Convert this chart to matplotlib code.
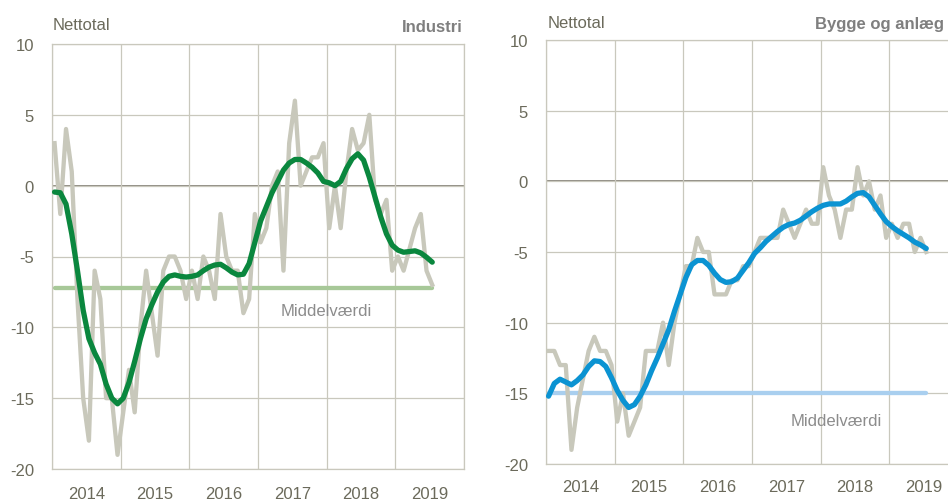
import numpy as np
import matplotlib.pyplot as plt
from matplotlib.ticker import FixedLocator, NullFormatter, FixedFormatter

# ---------------- data ----------------
start_year = 2014
year_labels = ["2014", "2015", "2016", "2017", "2018", "2019"]
y_ticks = [-20, -15, -10, -5, 0, 5, 10]

industri_netto = [3, -2, 4, 1, -8, -15, -18, -6, -8, -15,
                  -15, -19, -16, -13, -16, -10, -6, -9, -12, -6,
                  -5, -5, -6, -8, -6, -8, -5, -6, -8, -2,
                  -5, -6, -6, -9, -8, -2, -4, -3, 0, 1,
                  -6, 3, 6, 0, 1, 2, 2, 3, -3, 0,
                  -3, 1, 4, 2.5, 3, 5, -1, -2, -1, -6,
                  -5, -6, -4.5, -3, -2, -6, -7]
industri_trend = [-0.45, -0.5, -1.3, -3.4, -6.0, -8.8, -10.8, -11.8, -12.6, -14.0,
                  -15.0, -15.4, -15.0, -13.9, -12.4, -10.8, -9.4, -8.4, -7.5, -6.8,
                  -6.4, -6.3, -6.4, -6.45, -6.4, -6.3, -6.0, -5.75, -5.6, -5.55,
                  -5.8, -6.1, -6.3, -6.25, -5.5, -4.0, -2.5, -1.5, -0.5, 0.3,
                  1.1, 1.6, 1.85, 1.85, 1.6, 1.3, 0.9, 0.3, 0.2, 0.0,
                  0.3, 1.2, 1.9, 2.25, 1.8, 0.6, -0.8, -2.2, -3.4, -4.2,
                  -4.55, -4.7, -4.65, -4.6, -4.75, -5.05, -5.4]
industri_middel = -7.2

bygge_netto = [-12, -12, -13, -13, -19, -16, -14, -12, -11, -12,
               -12, -13, -17, -15, -18, -17, -16, -12, -12, -12,
               -10, -13, -10, -8, -6, -6, -4, -5, -5, -8,
               -8, -8, -7, -7, -6, -6, -5, -4, -4, -4,
               -4, -2, -3, -4, -3, -2, -3, -3, 1, -1,
               -2, -4, -2, -2, 1, -1, 0, -2, -1, -4,
               -3, -4, -3, -3, -5, -4, -5]
bygge_trend = [-15.2, -14.3, -14.0, -14.2, -14.4, -14.1, -13.7, -13.1, -12.7, -12.75,
               -13.1, -13.9, -14.8, -15.5, -16.0, -15.8, -15.2, -14.4, -13.4, -12.5,
               -11.5, -10.5, -9.2, -8.0, -6.8, -5.9, -5.6, -5.6, -5.95, -6.5,
               -6.95, -7.15, -7.1, -6.85, -6.3, -5.75, -5.1, -4.7, -4.25, -3.9,
               -3.55, -3.25, -3.05, -2.95, -2.75, -2.45, -2.15, -1.9, -1.7, -1.6,
               -1.6, -1.6, -1.4, -1.1, -0.85, -0.8, -1.1, -1.7, -2.3, -2.85,
               -3.2, -3.5, -3.75, -4.0, -4.3, -4.5, -4.75]
bygge_middel = -15.0

# ---------------- style ----------------
plt.rcParams["font.family"] = ["Liberation Sans", "DejaVu Sans"]

TXT = "#6b6a5b"
GRID = "#c9c8bd"
ZERO = "#6f6b5f"
GREY = "#c8c8bb"
GREEN = "#0a873e"
BLUE = "#0b93d2"
GREEN_M = "#a7c898"
BLUE_M = "#a9cfef"
TITLE = "#7f7f7f"
MID_TXT = "#8c8c8c"
FS = 12

W, H = 948, 502
fig = plt.figure(figsize=(W / 100, H / 100), dpi=100)


def px_axes(l, t, r, b):
    return fig.add_axes([l / W, 1 - b / H, (r - l) / W, (b - t) / H])


def months_to_x(n):
    return start_year + (np.arange(n) + 0.45) / 12.0


def panel(ax, netto, trend, middel, trend_col, mean_col, mid_xy, xpad):
    x = months_to_x(len(netto))
    ax.set_xlim(start_year, start_year + len(year_labels))
    ax.set_ylim(y_ticks[0], y_ticks[-1])
    ax.xaxis.set_major_locator(FixedLocator(np.arange(start_year, start_year + len(year_labels) + 1)))
    ax.xaxis.set_major_formatter(NullFormatter())
    ax.xaxis.set_minor_locator(FixedLocator(np.arange(len(year_labels)) + start_year + 0.5))
    ax.xaxis.set_minor_formatter(FixedFormatter(year_labels))
    ax.set_yticks(y_ticks)
    ax.set_yticklabels([str(v) for v in y_ticks])
    ax.tick_params(axis="both", which="both", length=0, colors=TXT, labelsize=FS)
    ax.tick_params(axis="y", pad=13)
    ax.tick_params(axis="x", which="minor", pad=xpad)
    ax.grid(True, which="major", color=GRID, lw=0.9, zorder=0)
    for s in ax.spines.values():
        s.set_color(GRID)
        s.set_linewidth(0.9)
    ax.axhline(0, color=ZERO, lw=1.1, zorder=1)
    ax.plot([x[0], x[-1]], [middel, middel], color=mean_col, lw=3.1,
            solid_capstyle="round", zorder=2)
    ax.plot(x, netto, color=GREY, lw=3.1, zorder=3, solid_joinstyle="round")
    ax.plot(x, trend, color=trend_col, lw=3.8, zorder=4,
            solid_capstyle="round", solid_joinstyle="round")
    ax.text(mid_xy[0], mid_xy[1], "Middelværdi", color=MID_TXT, fontsize=FS,
            ha="center", va="center", zorder=5)


ax1 = px_axes(52, 45, 464, 470)
panel(ax1, industri_netto, industri_trend, industri_middel, GREEN, GREEN_M,
      (2018.0, -8.8), 12)
ax2 = px_axes(546, 41, 958, 465)
panel(ax2, bygge_netto, bygge_trend, bygge_middel, BLUE, BLUE_M,
      (2018.23, -16.9), 11)

fig.text(53 / W, 1 - 25 / H, "Nettotal", color=TXT, fontsize=FS,
         ha="left", va="center")
fig.text(463 / W, 1 - 27 / H, "Industri", color=TITLE, fontsize=FS,
         fontweight="bold", ha="right", va="center")
fig.text(548 / W, 1 - 24 / H, "Nettotal", color=TXT, fontsize=FS,
         ha="left", va="center")
fig.text(944 / W, 1 - 25 / H, "Bygge og anlæg", color=TITLE, fontsize=FS,
         fontweight="bold", ha="right", va="center")

fig.savefig("out.png", dpi=100)
